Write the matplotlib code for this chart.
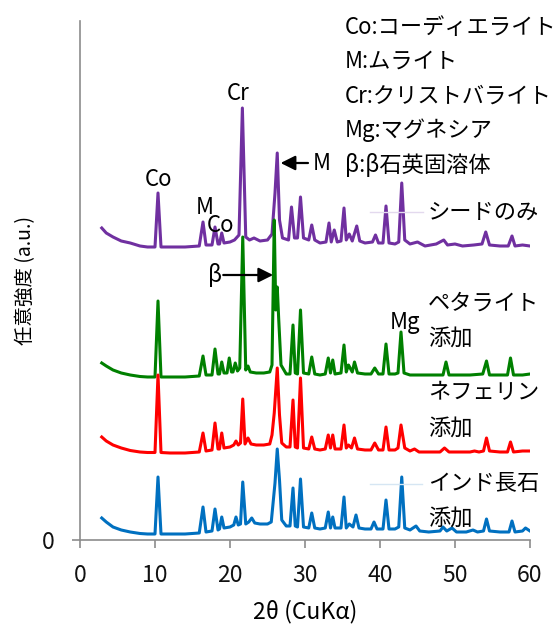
import matplotlib
matplotlib.use("Agg")
import matplotlib.pyplot as plt

plt.rcParams['font.family'] = ['Noto Sans CJK JP', 'DejaVu Sans']

# ---- data: (2theta, intensity a.u. incl. vertical offset) ----
seed = [(2.9,312),(3.5,307),(4.4,303),(5.5,299),(6.7,297),(8.0,294),(9.0,293),(10.0,293),(10.4,347),(10.8,293),
        (12,293),(14,293),(15.9,294),(16.4,318),(16.8,295),(17.6,295),(18.0,313),(18.4,296),(18.6,296),(18.9,307),
        (19.2,297),(20.0,298),(20.6,300),(21.2,305),(21.65,432),(22.1,303),(22.6,300),(23.2,302),(24.0,299),(25.0,300),
        (25.6,306),(26.0,347),(26.3,387),(26.6,320),(27.0,302),(27.8,300),(28.2,333),(28.6,302),(29.0,302),(29.4,343),
        (29.8,302),(30.5,300),(30.9,315),(31.3,300),(32.0,297),(32.8,298),(33.2,317),(33.5,298),(33.9,310),(34.3,298),
        (34.8,299),(35.2,332),(35.5,300),(35.9,306),(36.3,299),(36.9,314),(37.3,299),(38.0,297),(39.0,298),(39.4,305),
        (39.8,297),(40.4,297),(40.8,334),(41.2,297),(42.0,296),(42.5,298),(42.9,357),(43.3,300),(44.0,296),(45.0,298),
        (46.0,294),(47.5,296),(48.5,300),(49.0,295),(50.0,296),(51.0,294),(52.5,295),(53.6,296),(54.1,308),(54.6,295),
        (56.0,294),(57.1,294),(57.6,304),(58.0,294),(59.0,295),(60.0,294)]

petalite = [(2.9,177),(3.5,174),(4.4,170),(5.5,167),(6.7,165),(8.0,163.5),(9.0,163),(10.0,163),(10.4,239),(10.8,163),
            (12,163),(14,163),(15.9,164),(16.4,184),(16.8,165),(17.6,165),(18.0,191),(18.4,166),(18.6,166),(18.9,178),
            (19.2,167),(19.6,167),(19.9,182),(20.2,168),(20.4,168),(20.7,177),(21.0,169),(21.3,172),(21.7,303),(22.1,170),
            (22.4,174),(22.7,168),(23.5,167),(24.5,167),(25.3,168),(25.6,175),(25.9,320),(26.1,230),(26.3,253),(26.5,220),
            (26.8,175),(27.5,166),(28.0,166),(28.4,215),(28.7,167),(29.0,166),(29.4,230),(29.8,167),(30.5,166),(30.9,183),
            (31.3,166),(32.0,165),(32.7,166),(33.1,182),(33.4,167),(33.7,180),(34.0,166),(34.8,167),(35.2,195),(35.5,168),
            (35.8,175),(36.3,168),(36.6,178),(37.0,167),(38.0,166),(38.8,166),(39.3,172),(39.8,166),(40.4,166),(40.8,196),
            (41.2,166),(42.0,166),(42.4,167),(42.8,208),(43.2,167),(44.0,165),(45.0,165),(46.0,165),(47.5,165),(48.4,165),
            (48.8,178),(49.2,165),(50.5,165),(52.0,165),(53.7,166),(54.2,179),(54.6,165),(56.0,165),(57.0,165),(57.4,182),
            (57.8,165),(59.0,165),(60.0,166)]

nepheline = [(2.9,103),(3.5,99),(4.4,95),(5.5,92),(6.7,89.5),(8.0,88),(9.0,87.5),(10.0,87.5),(10.4,165),(10.8,87.5),
             (12,87),(14,87),(15.9,88),(16.4,107),(16.8,89),(17.6,90),(18.0,117),(18.4,91),(18.6,91),(18.9,107),
             (19.2,92),(20.0,93),(20.5,95),(20.8,99),(21.1,95),(21.4,97),(21.7,141),(22.0,96),(22.4,102),(22.8,96),
             (23.5,95),(24.5,95),(25.3,96),(25.6,105),(25.9,127),(26.3,172),(26.6,125),(26.9,97),(27.5,93),(28.0,93),
             (28.4,140),(28.7,93),(29.0,92),(29.4,162),(29.8,92),(30.5,91),(30.9,103),(31.3,91),(32.0,90),(32.7,91),
             (33.1,105),(33.4,92),(33.7,105),(34.0,91),(34.8,91),(35.2,115),(35.5,92),(35.8,95),(36.2,92),(36.6,102),
             (37.0,91),(38.0,90),(38.8,90),(39.3,97),(39.8,90),(40.4,90),(40.8,113),(41.2,90),(42.0,90),(42.4,92),
             (42.8,115),(43.3,92),(44.0,89),(44.6,91),(45.2,88),(46.5,88),(48.0,88),(48.6,92),(49.2,88),(50.5,88),
             (52.0,88),(52.6,89),(53.2,88),(53.8,89),(54.2,102),(54.6,89),(56.0,88),(57.0,88),(57.4,98),(57.8,88),
             (59.0,89),(60.0,89)]

feldspar = [(2.9,22),(3.5,18),(4.4,13),(5.5,10),(6.7,8),(8.0,6.5),(9.0,6),(10.0,6),(10.4,63),(10.8,6),
            (12,6),(14,6),(15.9,7),(16.4,33),(16.8,8),(17.6,9),(18.0,31),(18.4,10),(18.6,11),(18.9,23),
            (19.2,12),(20.0,13),(20.5,15),(20.8,23),(21.1,15),(21.4,16),(21.7,58),(22.1,16),(22.5,18),(22.9,22),
            (23.3,17),(24.0,16),(25.0,16),(25.5,18),(26.0,57),(26.3,91),(26.6,60),(26.9,20),(27.5,14),(28.0,14),
            (28.4,52),(28.7,14),(29.0,13),(29.4,61),(29.8,13),(30.5,12),(30.9,27),(31.3,12),(32.0,11),(32.7,12),
            (33.1,28),(33.4,12),(33.7,23),(34.0,12),(34.8,12),(35.2,43),(35.5,12),(35.9,16),(36.4,13),(36.8,25),
            (37.2,12),(38.0,11),(38.8,11),(39.2,18),(39.6,11),(40.4,11),(40.8,40),(41.2,11),(42.0,11),(42.5,13),
            (42.9,63),(43.3,12),(44.0,10),(44.8,14),(45.3,9),(46.5,8),(48.0,9),(48.4,13),(48.9,9),(49.6,12),
            (50.2,8),(51.5,8),(52.4,10),(53.0,8),(53.8,9),(54.2,21),(54.6,9),(56.0,8),(57.2,8),(57.6,19),
            (58.0,8),(59.0,9),(59.4,12),(60.0,9)]

series_names = [['シードのみ'], ['ペタライト', '添加'], ['ネフェリン', '添加'], ['インド長石', '添加']]
series_colors = ['#7030A0', '#008000', '#FF0000', '#0070C0']
legend_lines = ['Co:コーディエライト', 'M:ムライト', 'Cr:クリストバライト', 'Mg:マグネシア', 'β:β石英固溶体']
xticks = [0, 10, 20, 30, 40, 50, 60]

# ---- figure ----
fig = plt.figure(figsize=(5.55, 6.25), dpi=100)
ax = fig.add_axes([80/555, 1-540/625, 450/555, 519/625])
ax.set_xlim(0, 60)
ax.set_ylim(0, 519)

for data, col in zip([seed, petalite, nepheline, feldspar], series_colors):
    x, y = zip(*data)
    ax.plot(x, y, color=col, lw=2.2, solid_joinstyle='round')

for s in ['top', 'right']:
    ax.spines[s].set_visible(False)
for s in ['left', 'bottom']:
    ax.spines[s].set_color('#8c8c8c')
    ax.spines[s].set_linewidth(1.2)
ax.set_xticks(xticks)
ax.set_xticklabels([str(t) for t in xticks])
ax.set_yticks([0])
ax.set_yticklabels(['0'])
ax.tick_params(axis='both', direction='out', length=5.5, width=1.2, color='#8c8c8c',
               labelsize=16.5, labelcolor='#111111')
ax.tick_params(axis='x', pad=12)
ax.tick_params(axis='y', pad=13)
ax.set_xlabel('2θ (CuKα)', fontsize=16.5, labelpad=9)
ax.set_ylabel('任意強度 (a.u.)', fontsize=14, labelpad=4)

fs = 16
# legend-like text block
for i, t in enumerate(legend_lines):
    ax.text(35.3, 513 - i*34.5, t, fontsize=fs, ha='left', va='center', clip_on=False)

# series labels
label_pos = [(46.4, [328]), (46.4, [237, 202]), (46.4, [147, 112]), (46.4, [56, 22])]
for names, (lx, ys) in zip(series_names, label_pos):
    for n, yy in zip(names, ys):
        ax.text(lx, yy, n, fontsize=fs, ha='left', va='center', clip_on=False)

# faint leader lines
ax.plot([38.7, 45.7], [328, 328], color='#e3d9ee', lw=1)
ax.plot([38.7, 45.6], [56, 56], color='#d6e6f3', lw=1)

# peak annotations
ax.text(10.4, 361, 'Co', fontsize=fs, ha='center', va='center')
ax.text(16.7, 332, 'M', fontsize=fs, ha='center', va='center')
ax.text(18.8, 314, 'Co', fontsize=fs, ha='center', va='center')
ax.text(21.1, 447, 'Cr', fontsize=fs, ha='center', va='center')
ax.text(43.3, 218, 'Mg', fontsize=fs, ha='center', va='center')
ax.annotate('', xy=(26.75, 377), xytext=(30.4, 377),
            arrowprops=dict(arrowstyle='-|>', color='black', lw=1.6, mutation_scale=22,
                            shrinkA=0, shrinkB=0))
ax.text(31.0, 377, 'M', fontsize=fs, ha='left', va='center')
ax.annotate('', xy=(25.75, 265), xytext=(19.1, 265),
            arrowprops=dict(arrowstyle='-|>', color='black', lw=1.6, mutation_scale=22,
                            shrinkA=0, shrinkB=0))
ax.text(18.0, 265, 'β', fontsize=fs, ha='center', va='center')

fig.savefig('out.png', dpi=100)
